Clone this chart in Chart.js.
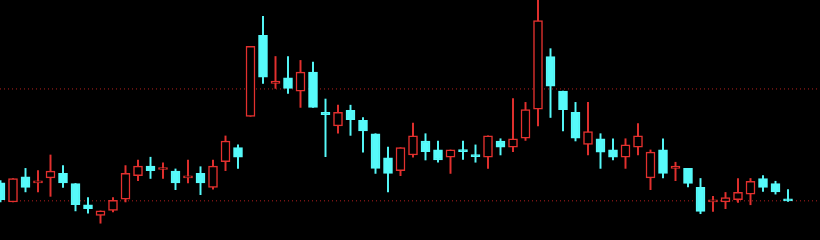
<!DOCTYPE html>
<html>
<head>
<meta charset="utf-8">
<script src="https://cdn.jsdelivr.net/npm/chart.js@4.4.1/dist/chart.umd.min.js"></script>
<style>
  html, body { margin: 0; padding: 0; background: #000; }
  #wrap { width: 820px; height: 240px; position: relative; background: #000; }
</style>
</head>
<body>
<div id="wrap"><canvas id="c"></canvas></div>
<script>
// Candle index (time slot)
const categories = Array.from({length: 64}, (_, i) => i);
// OHLC series
const openV  = [10.32, 9.98, 10.43, 10.32, 10.41, 10.49, 10.31, 9.93, 9.74, 9.83,
                10.03, 10.45, 10.62, 10.56, 10.53, 10.41, 10.49, 10.24, 10.70, 10.95,
                11.51, 12.96, 12.10, 12.20, 11.96, 12.30, 11.58, 11.34, 11.62, 11.44,
                11.20, 10.77, 10.54, 10.82, 11.07, 10.91, 10.78, 10.91, 10.82, 10.78,
                11.07, 10.96, 11.12, 11.64, 12.58, 11.96, 11.58, 11.01, 11.11, 10.91,
                10.78, 10.96, 10.41, 10.91, 10.58, 10.58, 10.24, 9.98, 9.98, 10.02,
                10.12, 10.40, 10.31, 10.02];
const highV  = [10.36, 10.40, 10.58, 10.54, 10.82, 10.63, 10.31, 10.06, 9.82, 10.06,
                10.63, 10.73, 10.78, 10.68, 10.57, 10.73, 10.61, 10.73, 11.16, 11.00,
                12.76, 13.30, 12.58, 12.58, 12.51, 12.48, 11.82, 11.71, 11.71, 11.49,
                11.20, 10.96, 10.95, 11.39, 11.20, 11.07, 10.91, 11.07, 11.00, 11.16,
                11.11, 11.83, 11.76, 13.62, 12.72, 11.96, 11.76, 11.76, 11.20, 11.11,
                11.11, 11.38, 10.91, 11.11, 10.69, 10.58, 10.40, 10.08, 10.15, 10.40,
                10.40, 10.45, 10.35, 10.20];
const lowV   = [9.98, 9.98, 10.16, 10.16, 10.08, 10.24, 9.82, 9.78, 9.60, 9.80,
                9.98, 10.36, 10.40, 10.40, 10.20, 10.32, 10.11, 10.21, 10.54, 10.58,
                11.51, 12.10, 12.01, 11.92, 11.67, 11.67, 10.79, 11.21, 11.17, 10.87,
                10.49, 10.16, 10.45, 10.78, 10.73, 10.69, 10.49, 10.74, 10.69, 10.58,
                10.82, 10.88, 11.08, 11.34, 11.49, 11.25, 11.07, 10.82, 10.58, 10.73,
                10.58, 10.82, 10.20, 10.41, 10.36, 10.25, 9.77, 9.81, 9.86, 9.97,
                9.93, 10.17, 10.12, 9.99];
const closeV = [10.02, 10.40, 10.24, 10.35, 10.53, 10.32, 9.93, 9.86, 9.82, 10.01,
                10.49, 10.62, 10.54, 10.58, 10.32, 10.44, 10.32, 10.62, 11.07, 10.78,
                12.76, 12.21, 12.14, 12.01, 12.30, 11.67, 11.54, 11.58, 11.45, 11.25,
                10.58, 10.49, 10.95, 11.16, 10.88, 10.73, 10.91, 10.88, 10.79, 11.16,
                10.96, 11.11, 11.63, 13.22, 12.05, 11.63, 11.12, 11.24, 10.87, 10.78,
                11.00, 11.16, 10.87, 10.49, 10.62, 10.31, 9.81, 10.02, 10.06, 10.15,
                10.35, 10.24, 10.16, 10.00];
// Reference price levels (dotted lines)
const levels = [12.00, 10.00];

const UP = '#e3302e';
const DOWN = '#56fafa';
const LEVEL = '#b3201e';

const isUp = categories.map(i => closeV[i] >= openV[i]);
const xMin = -0.04, xMax = 65.56;

const wickData = categories.map(i => ({x: i, y: [lowV[i], highV[i]]}));
const bodyData = categories.map(i => ({x: i, y: [openV[i], closeV[i]]}));

const levelSets = levels.map(v => ({
  type: 'line',
  data: [{x: xMin, y: v}, {x: xMax, y: v}],
  borderColor: LEVEL,
  borderWidth: 1,
  borderDash: [1, 3],
  pointRadius: 0,
  fill: false,
  order: 3
}));

new Chart(document.getElementById('c'), {
  type: 'bar',
  data: {
    datasets: [
      ...levelSets,
      {
        data: wickData,
        backgroundColor: categories.map(i => isUp[i] ? UP : DOWN),
        borderWidth: 0,
        barThickness: 1.3,
        grouped: false,
        order: 2
      },
      {
        data: bodyData,
        backgroundColor: categories.map(i => isUp[i] ? '#000000' : DOWN),
        borderColor: categories.map(i => isUp[i] ? UP : DOWN),
        borderWidth: 1.5,
        borderSkipped: false,
        barThickness: 9,
        minBarLength: 2,
        grouped: false,
        order: 1
      }
    ]
  },
  options: {
    responsive: true,
    maintainAspectRatio: false,
    animation: false,
    layout: { padding: 0 },
    plugins: { legend: { display: false }, tooltip: { enabled: false } },
    scales: {
      x: { type: 'linear', min: xMin, max: xMax, offset: false, display: false,
           grid: { display: false, offset: false } },
      y: { type: 'linear', min: 9.30, max: 13.59, display: false, beginAtZero: false,
           grid: { display: false } }
    }
  }
});
</script>
</body>
</html>
